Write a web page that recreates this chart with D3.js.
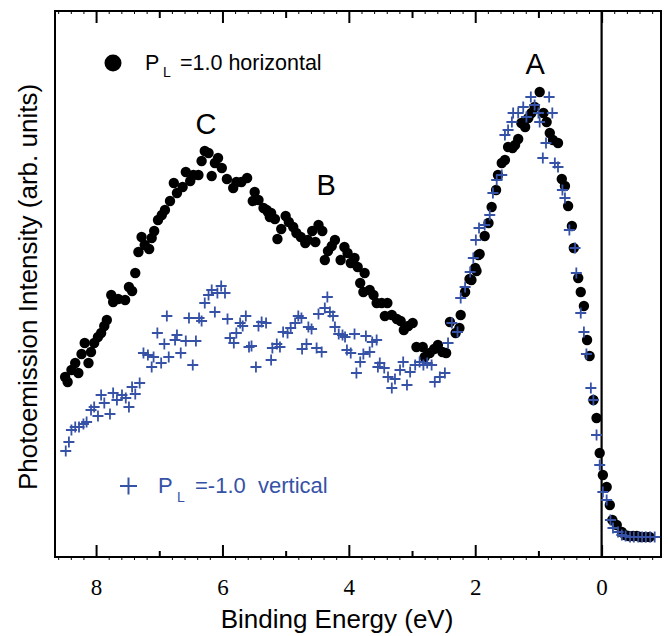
<!DOCTYPE html>
<html>
<head>
<meta charset="utf-8">
<script src="https://cdn.jsdelivr.net/npm/d3@7"></script>
<style>
  body { margin: 0; background: #fff; }
  svg text { font-family: "Liberation Sans", Arial, sans-serif; }
  svg text.tick-label { font-family: "Liberation Serif", "Times New Roman", serif; }
</style>
</head>
<body>
<div id="chart"></div>
<script>
// binding energy (eV), intensity (arb. units)
const horizontal = [[8.49,180],[8.45,175],[8.39,187],[8.33,194],[8.28,184],[8.23,203],[8.18,214],[8.12,194],[8.08,205],[8.03,214],[7.97,220],[7.92,224],[7.87,231],[7.83,237],[7.76,262],[7.73,255],[7.65,258],[7.54,257],[7.48,270],[7.43,266],[7.38,284],[7.33,305],[7.28,320],[7.23,312],[7.16,308],[7.12,319],[7.08,326],[7.02,337],[6.96,342],[6.91,347],[6.83,356],[6.77,374],[6.72,364],[6.63,370],[6.58,385],[6.51,376],[6.46,382],[6.38,382],[6.33,396],[6.28,406],[6.22,404],[6.17,381],[6.12,394],[6.07,399],[6.01,389],[5.93,378],[5.83,369],[5.78,375],[5.70,375],[5.61,379],[5.52,356],[5.49,365],[5.43,357],[5.35,349],[5.30,347],[5.28,345],[5.25,340],[5.23,344],[5.17,338],[5.13,318],[5.07,328],[5.00,341],[4.95,335],[4.88,330],[4.83,324],[4.76,320],[4.69,314],[4.65,317],[4.58,326],[4.53,315],[4.48,332],[4.42,326],[4.38,297],[4.33,306],[4.27,311],[4.22,317],[4.13,297],[4.07,310],[4.02,304],[3.97,294],[3.91,299],[3.86,290],[3.82,274],[3.77,265],[3.75,284],[3.67,267],[3.61,262],[3.56,254],[3.48,254],[3.43,241],[3.39,254],[3.32,242],[3.24,238],[3.18,236],[3.13,227],[3.06,231],[2.99,234],[2.93,210],[2.83,210],[2.80,200],[2.72,204],[2.65,208],[2.59,212],[2.52,205],[2.46,204],[2.40,235],[2.31,224],[2.25,229],[2.23,242],[2.16,265],[2.09,278],[2.06,277],[2.00,289],[1.98,286],[1.95,302],[1.93,303],[1.85,321],[1.79,334],[1.74,350],[1.67,367],[1.64,382],[1.58,394],[1.53,397],[1.48,410],[1.41,409],[1.37,412],[1.32,418],[1.27,434],[1.21,430],[1.16,439],[1.11,444],[1.06,450],[0.98,465],[0.92,444],[0.87,435],[0.82,424],[0.77,417],[0.69,414],[0.63,378],[0.58,371],[0.53,351],[0.47,331],[0.44,309],[0.37,279],[0.33,265],[0.28,251],[0.23,217],[0.19,201],[0.13,157],[0.08,139],[0.03,104],[-0.02,82],[-0.08,70],[-0.13,52],[-0.17,37],[-0.24,32],[-0.32,25],[-0.37,22],[-0.43,21],[-0.50,21],[-0.56,21],[-0.62,20],[-0.69,20],[-0.76,20]];

const vertical = [[8.48,106],[8.43,115],[8.39,127],[8.33,130],[8.27,130],[8.20,133],[8.15,135],[8.08,147],[8.03,150],[7.97,141],[7.92,162],[7.87,154],[7.78,143],[7.73,164],[7.67,157],[7.59,162],[7.53,159],[7.48,150],[7.43,170],[7.38,163],[7.31,174],[7.25,204],[7.18,202],[7.12,190],[7.09,200],[7.03,224],[6.97,194],[6.92,213],[6.88,241],[6.85,200],[6.75,217],[6.72,222],[6.66,204],[6.58,216],[6.53,239],[6.47,192],[6.42,216],[6.37,239],[6.33,236],[6.28,254],[6.22,262],[6.17,267],[6.12,245],[6.08,264],[6.02,271],[5.96,264],[5.92,238],[5.88,219],[5.82,214],[5.78,224],[5.72,234],[5.68,231],[5.63,241],[5.58,210],[5.54,211],[5.47,190],[5.43,231],[5.38,235],[5.31,234],[5.23,197],[5.21,209],[5.14,213],[5.09,210],[5.04,225],[4.97,224],[4.92,229],[4.85,234],[4.80,241],[4.75,239],[4.74,208],[4.67,213],[4.64,230],[4.59,228],[4.51,209],[4.48,243],[4.43,205],[4.38,249],[4.34,260],[4.30,245],[4.25,241],[4.22,230],[4.16,223],[4.10,222],[4.06,220],[4.03,207],[3.97,204],[3.91,223],[3.88,184],[3.82,195],[3.77,203],[3.73,221],[3.67,205],[3.63,215],[3.56,217],[3.54,190],[3.51,194],[3.44,189],[3.38,180],[3.32,169],[3.27,178],[3.19,187],[3.14,195],[3.08,172],[3.03,185],[2.95,192],[2.88,195],[2.82,192],[2.76,194],[2.69,192],[2.64,175],[2.56,180],[2.48,184],[2.43,214],[2.37,234],[2.28,225],[2.23,259],[2.16,270],[2.08,285],[2.03,299],[1.99,317],[1.94,329],[1.85,332],[1.77,342],[1.72,364],[1.66,377],[1.58,382],[1.53,422],[1.48,427],[1.42,435],[1.40,444],[1.32,444],[1.24,450],[1.19,440],[1.12,460],[1.06,452],[1.00,444],[0.98,435],[0.93,399],[0.88,414],[0.83,460],[0.78,444],[0.74,394],[0.69,390],[0.62,367],[0.58,359],[0.51,327],[0.42,309],[0.40,284],[0.33,244],[0.28,225],[0.24,203],[0.17,169],[0.13,157],[0.08,122],[0.03,92],[-0.02,65],[-0.08,57],[-0.14,37],[-0.18,29],[-0.26,25],[-0.32,22],[-0.38,21],[-0.45,20],[-0.51,20],[-0.58,20],[-0.64,20],[-0.70,20],[-0.77,20],[-0.84,20]];

const labelTicks = [8, 6, 4, 2, 0];
const halfTicks = [7, 5, 3, 1];
const peakLabels = [["A", 1.05, 483], ["B", 4.36, 362], ["C", 6.26, 423]];

const width = 668, height = 636;
const margin = {top: 11, right: 7, bottom: 79, left: 55};
const blue = "#3652a6";

const svg = d3.select("#chart").append("svg")
    .attr("width", width)
    .attr("height", height);

const x = d3.scaleLinear().domain([8.65, -0.94]).range([margin.left, width - margin.right]);
const y = d3.scaleLinear().domain([0, 546]).range([height - margin.bottom, margin.top]);
const plotBottom = height - margin.bottom;

// minor ticks every 0.2 eV
const minorTicks = d3.range(-8, 87, 2).map(d => d / 10).filter(d => Math.abs(d - Math.round(d)) > 0.01);

function addAxis(axisFn, yPos, values, size, labels) {
    let g = svg.append("g")
        .attr("transform", "translate(0," + yPos + ")")
        .call(axisFn(x).tickValues(values).tickSize(size).tickFormat(labels ? d3.format("d") : ""));
    g.select(".domain").remove();
    g.selectAll(".tick line").attr("stroke", "#000").attr("stroke-width", 2);
    return g;
}

// bottom axis
let bottomMain = addAxis(d3.axisBottom, plotBottom, labelTicks, -12, true);
bottomMain.attr("font-family", null);
bottomMain.selectAll("text")
    .attr("class", "tick-label")
    .attr("y", 38).attr("dy", null)
    .style("font-size", "23px")
    .attr("fill", "#000");
addAxis(d3.axisBottom, plotBottom, halfTicks, -6, false);
addAxis(d3.axisBottom, plotBottom, minorTicks, 3, false).selectAll(".tick line").attr("stroke-width", 1);

// top axis
addAxis(d3.axisTop, margin.top, labelTicks, -12, false);
addAxis(d3.axisTop, margin.top, halfTicks, -7, false);
addAxis(d3.axisTop, margin.top, minorTicks, -3, false).selectAll(".tick line").attr("stroke-width", 1);

// frame
svg.append("rect")
    .attr("x", margin.left)
    .attr("y", margin.top)
    .attr("width", width - margin.left - margin.right)
    .attr("height", plotBottom - margin.top)
    .attr("fill", "none")
    .attr("stroke", "#000")
    .attr("stroke-width", 2);

// Fermi level
svg.append("line")
    .attr("x1", x(0)).attr("x2", x(0))
    .attr("y1", margin.top).attr("y2", plotBottom)
    .attr("stroke", "#000")
    .attr("stroke-width", 2.2);

// horizontal polarization, filled circles
svg.append("g")
    .selectAll("circle")
    .data(horizontal)
    .enter()
    .append("circle")
      .attr("cx", d => x(d[0]))
      .attr("cy", d => y(d[1]))
      .attr("r", 5.2)
      .attr("fill", "#000");

// vertical polarization, plus markers
const plus = 5.5;
svg.append("g")
    .selectAll("path")
    .data(vertical)
    .enter()
    .append("path")
      .attr("d", d => {
          let cx = x(d[0]), cy = y(d[1]);
          return `M${cx - plus},${cy}H${cx + plus}M${cx},${cy - plus}V${cy + plus}`;
      })
      .attr("stroke", blue)
      .attr("stroke-width", 1.8)
      .attr("fill", "none");

// peak labels
svg.append("g")
    .selectAll("text")
    .data(peakLabels)
    .enter()
    .append("text")
      .attr("x", d => x(d[1]))
      .attr("y", d => y(d[2]))
      .attr("text-anchor", "middle")
      .style("font-size", "29px")
      .text(d => d[0]);

// legend
svg.append("circle").attr("cx", 113).attr("cy", 63).attr("r", 8.5).attr("fill", "#000");
let leg1 = svg.append("text").style("font-size", "21.5px").attr("fill", "#000");
leg1.append("tspan").attr("x", 145).attr("y", 70).text("P");
leg1.append("tspan").attr("x", 163).attr("y", 77).style("font-size", "14px").text("L");
leg1.append("tspan").attr("x", 180).attr("y", 70).text("=1.0 horizontal");

svg.append("path")
    .attr("d", "M120,486H137M128.5,477.5V494.5")
    .attr("stroke", blue)
    .attr("stroke-width", 2);
let leg2 = svg.append("text").style("font-size", "22px").attr("fill", blue);
leg2.append("tspan").attr("x", 158).attr("y", 493).text("P");
leg2.append("tspan").attr("x", 177).attr("y", 502).style("font-size", "14px").text("L");
leg2.append("tspan").attr("x", 195).attr("y", 493).text("=-1.0\u00a0\u00a0vertical");

// axis titles
svg.append("text")
    .attr("x", 337)
    .attr("y", 628)
    .attr("text-anchor", "middle")
    .style("font-size", "26px")
    .text("Binding Energy (eV)");

svg.append("text")
    .attr("transform", "translate(37,287) rotate(-90)")
    .attr("text-anchor", "middle")
    .style("font-size", "26px")
    .text("Photoemission Intensity (arb. units)");
</script>
</body>
</html>
